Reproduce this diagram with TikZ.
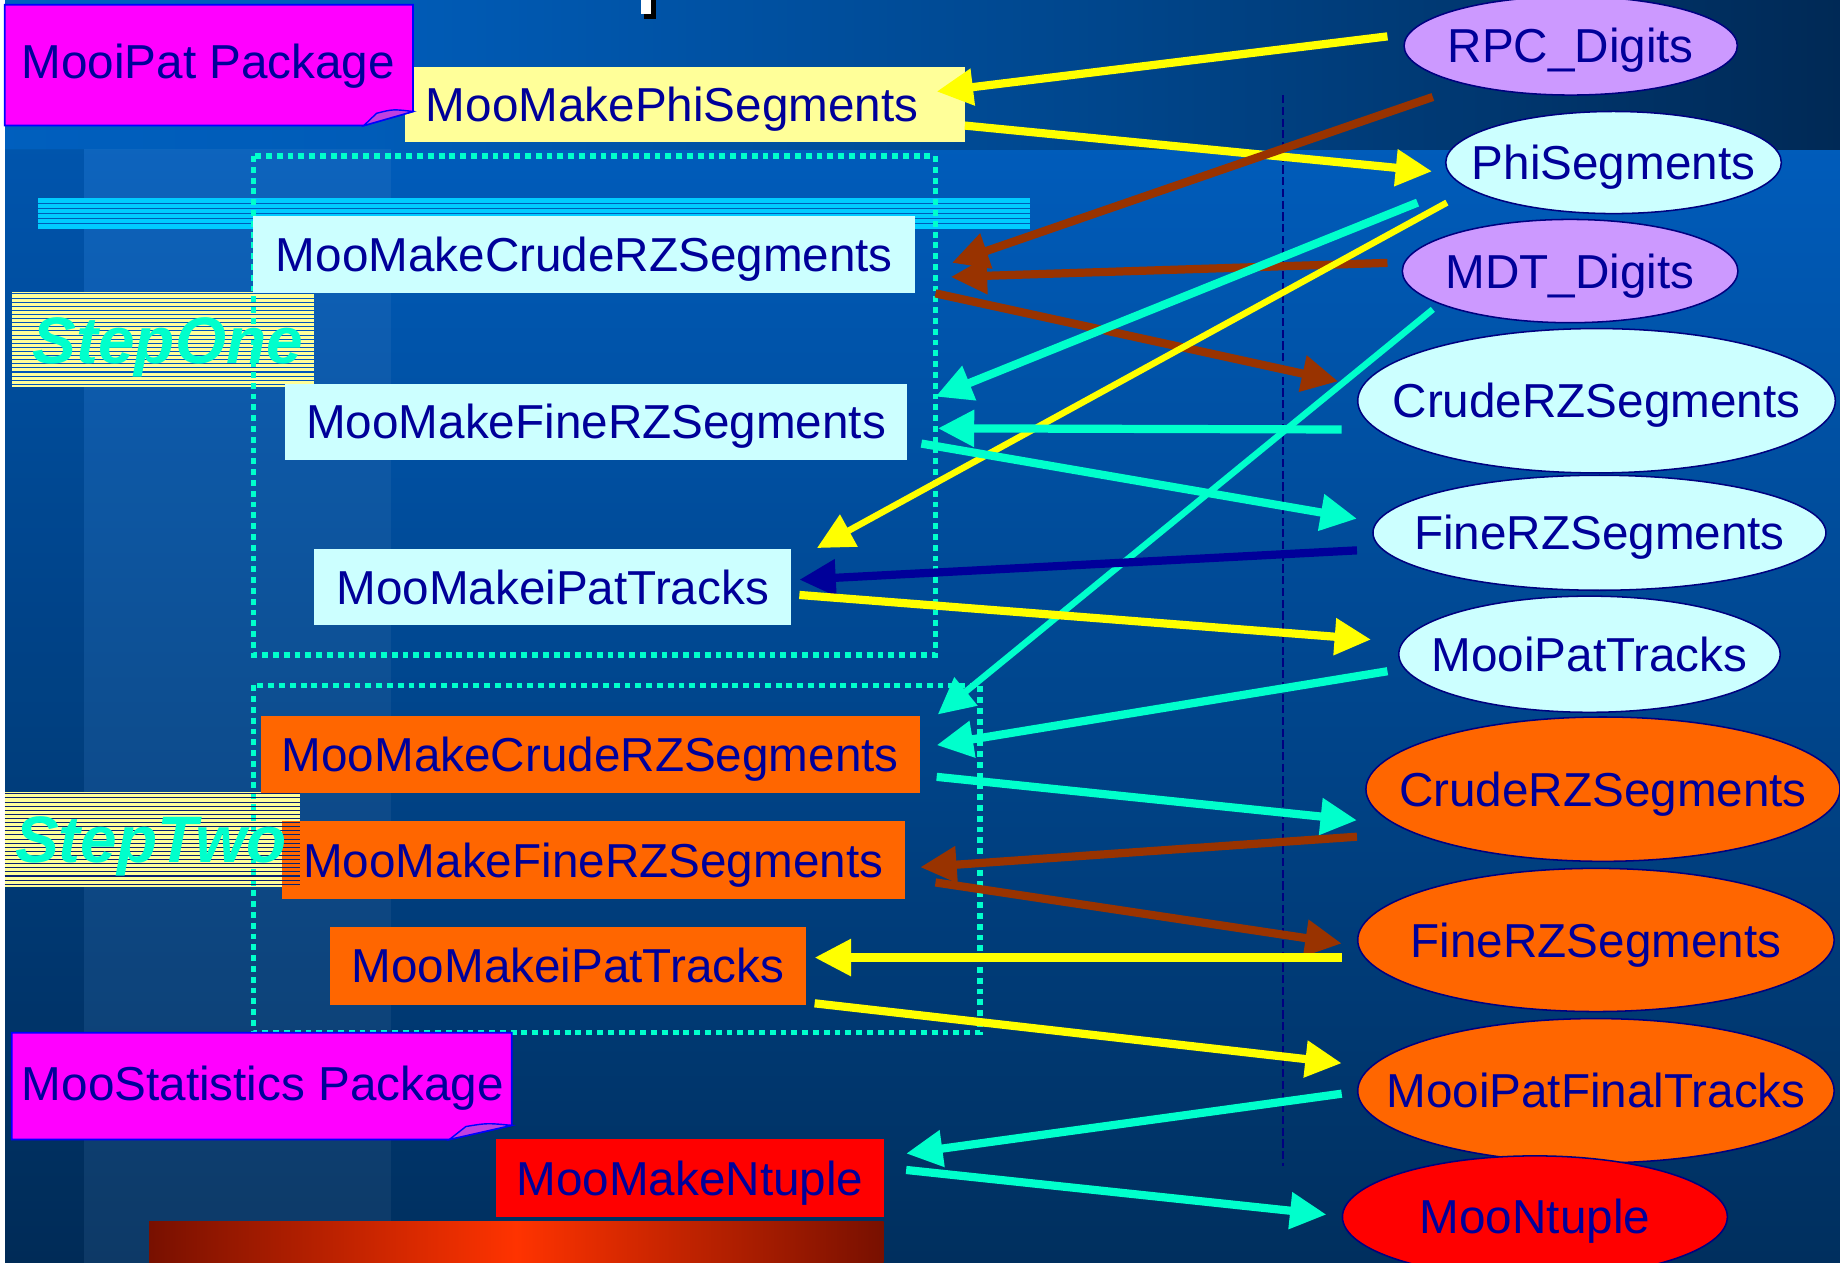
\documentclass[tikz,border=0pt]{standalone}
\usepackage{fontspec}
\setmainfont{Liberation Sans}
\usetikzlibrary{shapes.geometric,arrows.meta}
\definecolor{txtnavy}{HTML}{000099}
\definecolor{lcyan}{HTML}{CCFFFF}
\definecolor{pyellow}{HTML}{FFFF99}
\definecolor{morange}{HTML}{FF6600}
\definecolor{mred}{HTML}{FF0000}
\definecolor{lav}{HTML}{CC99FF}
\definecolor{aqua}{HTML}{00FFCC}
\definecolor{brn}{HTML}{993300}
\definecolor{yel}{HTML}{FFFF00}
\definecolor{arrnavy}{HTML}{000099}
\definecolor{edgenavy}{HTML}{000080}
\definecolor{bgA}{HTML}{0066CC}
\definecolor{bgB}{HTML}{005CB8}
\definecolor{bgC}{HTML}{00468C}
\definecolor{bgD}{HTML}{002248}
\definecolor{bgE}{HTML}{000A18}
\definecolor{bgtop}{HTML}{005CBB}
\definecolor{bgbot}{HTML}{002F5E}
\definecolor{barcyan}{HTML}{00CCFF}
\definecolor{stripeA}{HTML}{0055BB}
\definecolor{stripeB}{HTML}{0A2070}
\definecolor{magnote}{HTML}{FF00FF}
\definecolor{noteedge}{HTML}{0000FF}
\definecolor{flap}{HTML}{C040E0}
\definecolor{dred}{HTML}{781000}
\definecolor{ored}{HTML}{FF3300}
\pgfdeclarehorizontalshading{topband}{100bp}{color(0bp)=(bgA); color(35bp)=(bgB); color(55bp)=(bgC); color(80bp)=(bgD); color(100bp)=(bgE)}
\tikzset{
  txt/.style={text=txtnavy, font=\fontsize{40.6}{48}\selectfont, text height=29.1pt, text depth=0pt},
  proc/.style={txt, rectangle, inner sep=0pt},
  data/.style={txt, ellipse, draw=edgenavy, line width=1.3pt, inner sep=0pt},
  flow/.style={line width=7pt, -{Triangle[length=31pt,width=30pt]}},
  thinflow/.style={line width=5.5pt, -{Triangle[length=31pt,width=30pt]}},
  stepframe/.style={aqua, line width=4.6pt, dash pattern=on 5pt off 4.2pt},
  steptxt/.style={text=aqua, font=\fontsize{56}{60}\selectfont\bfseries\itshape, text height=40pt, text depth=0pt, inner sep=0pt},
  notefill/.style={fill=magnote, draw=noteedge, line width=1.5pt},
  flapfill/.style={fill=flap, draw=noteedge, line width=1.2pt},
}
\begin{document}
\begin{tikzpicture}[x=1pt, y=-1pt]
\clip (0,0) rectangle (1568,1076);
% background
\shade[top color=bgtop, bottom color=bgbot] (0,120) rectangle (1568,1076);
\shade[shading=topband] (0,0) rectangle (1568,127);
\fill[white, opacity=0.05] (72,127) rectangle (333,1076);
\fill[black, opacity=0.07] (4,127) rectangle (72,1076);
\fill[white] (0,0) rectangle (4,1076);
% cyan striped bar
\fill[barcyan] (32,169) rectangle (878,195);
\foreach \yy in {173.3,177.6,...,193} \draw[bgB, line width=1pt] (32,\yy) -- (878,\yy);
% step labels (background)
\fill[pyellow] (10,249) rectangle (268,330);
\foreach \yy in {250.5,254,...,330} \draw[stripeA, line width=0.9pt] (10,\yy) -- (268,\yy);
\fill[pyellow] (4,675) rectangle (256,756);
% dotted frames
\draw[stepframe] (216,133) rectangle (797,558);
\draw[stepframe] (216,584) rectangle (835,880);
% dashed vertical
\draw[edgenavy, line width=1.5pt, dash pattern=on 7pt off 3pt] (1093,81) -- (1093,994);
% process boxes
\node[proc, fill=pyellow, minimum width=477pt, minimum height=64pt, text width=441pt, align=left] (phi) at (583.5,89) {MooMakePhiSegments};
\node[proc, fill=lcyan, minimum width=564pt, minimum height=66pt] (crude1) at (498,217) {MooMakeCrudeRZSegments};
\node[proc, fill=lcyan, minimum width=530pt, minimum height=65pt] (fine1) at (508,359.5) {MooMakeFineRZSegments};
\node[proc, fill=lcyan, minimum width=406pt, minimum height=65pt] (ipat1) at (471,500.5) {MooMakeiPatTracks};
\node[proc, fill=morange, minimum width=562pt, minimum height=66pt] (crude2) at (503,643) {MooMakeCrudeRZSegments};
\node[proc, fill=morange, minimum width=531pt, minimum height=66pt] (fine2) at (505.5,733) {MooMakeFineRZSegments};
\node[proc, fill=morange, minimum width=406pt, minimum height=66pt] (ipat2) at (484,823) {MooMakeiPatTracks};
\node[proc, fill=mred, minimum width=330pt, minimum height=66pt] (ntuple) at (588,1004) {MooMakeNtuple};
% step two stripes over box, step texts
\foreach \yy in {676.5,680,...,756} \draw[stripeB, line width=0.9pt] (4,\yy) -- (256,\yy);
\node[steptxt] (stepone) at (143,290) {StepOne};
\node[steptxt] (steptwo) at (128.5,715) {StepTwo};
% package notes
\filldraw[notefill] (4,4) -- (352,4) -- (352,95) -- (310,107) -- (4,107) -- cycle;
\filldraw[flapfill] (310,107) -- (321,96.5) .. controls (335,93) .. (352,95) -- cycle;
\node[txt] (pkgone) at (177.5,52) {MooiPat Package};
\filldraw[notefill] (10,880) -- (436,880) -- (436,959) -- (383,971) -- (10,971) -- cycle;
\filldraw[flapfill] (383,971) -- (397,960) .. controls (415,957) .. (436,959) -- cycle;
\node[txt] (pkgtwo) at (224,923) {MooStatistics Package};
% data ellipses
\node[data, fill=lav, minimum width=284pt, minimum height=84pt] (rpc) at (1338.5,39) {\makebox[0pt]{RPC\_Digits}};
\node[data, fill=lcyan, minimum width=286pt, minimum height=87pt] (phiseg) at (1375,138.5) {\makebox[0pt]{PhiSegments}};
\node[data, fill=lav, minimum width=286pt, minimum height=88pt] (mdt) at (1338,231) {\makebox[0pt]{MDT\_Digits}};
\node[data, fill=lcyan, minimum width=407pt, minimum height=123pt] (crude1e) at (1360.5,341.5) {\makebox[0pt]{CrudeRZSegments}};
\node[data, fill=lcyan, minimum width=386pt, minimum height=98pt] (fine1e) at (1363,454) {\makebox[0pt]{FineRZSegments}};
\node[data, fill=lcyan, minimum width=325pt, minimum height=99pt] (tracks1e) at (1354.5,557.5) {\makebox[0pt]{MooiPatTracks}};
\node[data, fill=morange, minimum width=404pt, minimum height=123pt] (crude2e) at (1366,672.5) {\makebox[0pt]{CrudeRZSegments}};
\node[data, fill=morange, minimum width=406pt, minimum height=122pt] (fine2e) at (1360,801) {\makebox[0pt]{FineRZSegments}};
\node[data, fill=morange, minimum width=406pt, minimum height=123pt] (finale) at (1360,929.5) {\makebox[0pt]{MooiPatFinalTracks}};
\node[data, fill=mred, minimum width=328pt, minimum height=104pt] (ntuplee) at (1308,1037) {\makebox[0pt]{MooNtuple}};
% bottom gradient bar
\shade[left color=dred, right color=dred, middle color=ored] (127,1041) rectangle (753,1076);
% connectors
\draw[flow, yel] ([shift={(-13.5,-8)}]rpc.west) -- ([shift={(-24,-11)}]phi.east);
\draw[flow, yel] ([shift={(0,18)}]phi.east) -- ([shift={(-11,7.5)}]phiseg.west);
\draw[flow, brn] ([shift={(-117.5,1)}]rpc.south) -- ([shift={(31,7)}]crude1.east);
\draw[flow, brn] ([shift={(-12,-7)}]mdt.west) -- ([shift={(30,19)}]crude1.east);
\draw[flow, brn] ([shift={(17,33)}]crude1.east) -- ([shift={(-16,-16.5)}]crude1e.west);
\draw[flow, aqua] ([shift={(-167,-10)}]phiseg.south) -- ([shift={(24,-21.5)}]fine1.east);
\draw[thinflow, yel] ([shift={(-142,-10)}]phiseg.south) -- ([shift={(22,-33.5)}]ipat1.east);
\draw[flow, aqua] ([shift={(-13,24.5)}]crude1e.west) -- ([shift={(26,5.5)}]fine1.east);
\draw[flow, aqua] ([shift={(12,18.5)}]fine1.east) -- ([shift={(-13,-12)}]fine1e.west);
\draw[thinflow, aqua] ([shift={(-117,-12)}]mdt.south) -- ([shift={(15,-1)}]crude2.north east);
\draw[flow, arrnavy] ([shift={(-13,15)}]fine1e.west) -- ([shift={(7,-6.5)}]ipat1.east);
\draw[flow, yel] ([shift={(7,6.5)}]ipat1.east) -- ([shift={(-23,-12.5)}]tracks1e.west);
\draw[flow, aqua] ([shift={(-9,14.5)}]tracks1e.west) -- ([shift={(14,-8)}]crude2.east);
\draw[flow, aqua] ([shift={(14,19)}]crude2.east) -- ([shift={(-7,26.5)}]crude2e.west);
\draw[flow, brn] ([shift={(-7,40.5)}]crude2e.west) -- ([shift={(13,6)}]fine2.east);
\draw[flow, brn] ([shift={(26,19)}]fine2.east) -- ([shift={(-13,3)}]fine2e.west);
\draw[flow, yel] ([shift={(-13,15)}]fine2e.west) -- ([shift={(7,-7)}]ipat2.east);
\draw[flow, yel] ([shift={(7,32)}]ipat2.east) -- ([shift={(-13,-23.5)}]finale.west);
\draw[flow, aqua] ([shift={(-13,2.5)}]finale.west) -- ([shift={(19,-21)}]ntuple.east);
\draw[flow, aqua] ([shift={(19,-7)}]ntuple.east) -- ([shift={(-13,-2)}]ntuplee.west);
% fragment at the top
\fill[black] (549,0) rectangle (559,16);
\fill[white] (546,0) rectangle (555,12);
\end{tikzpicture}
\end{document}
